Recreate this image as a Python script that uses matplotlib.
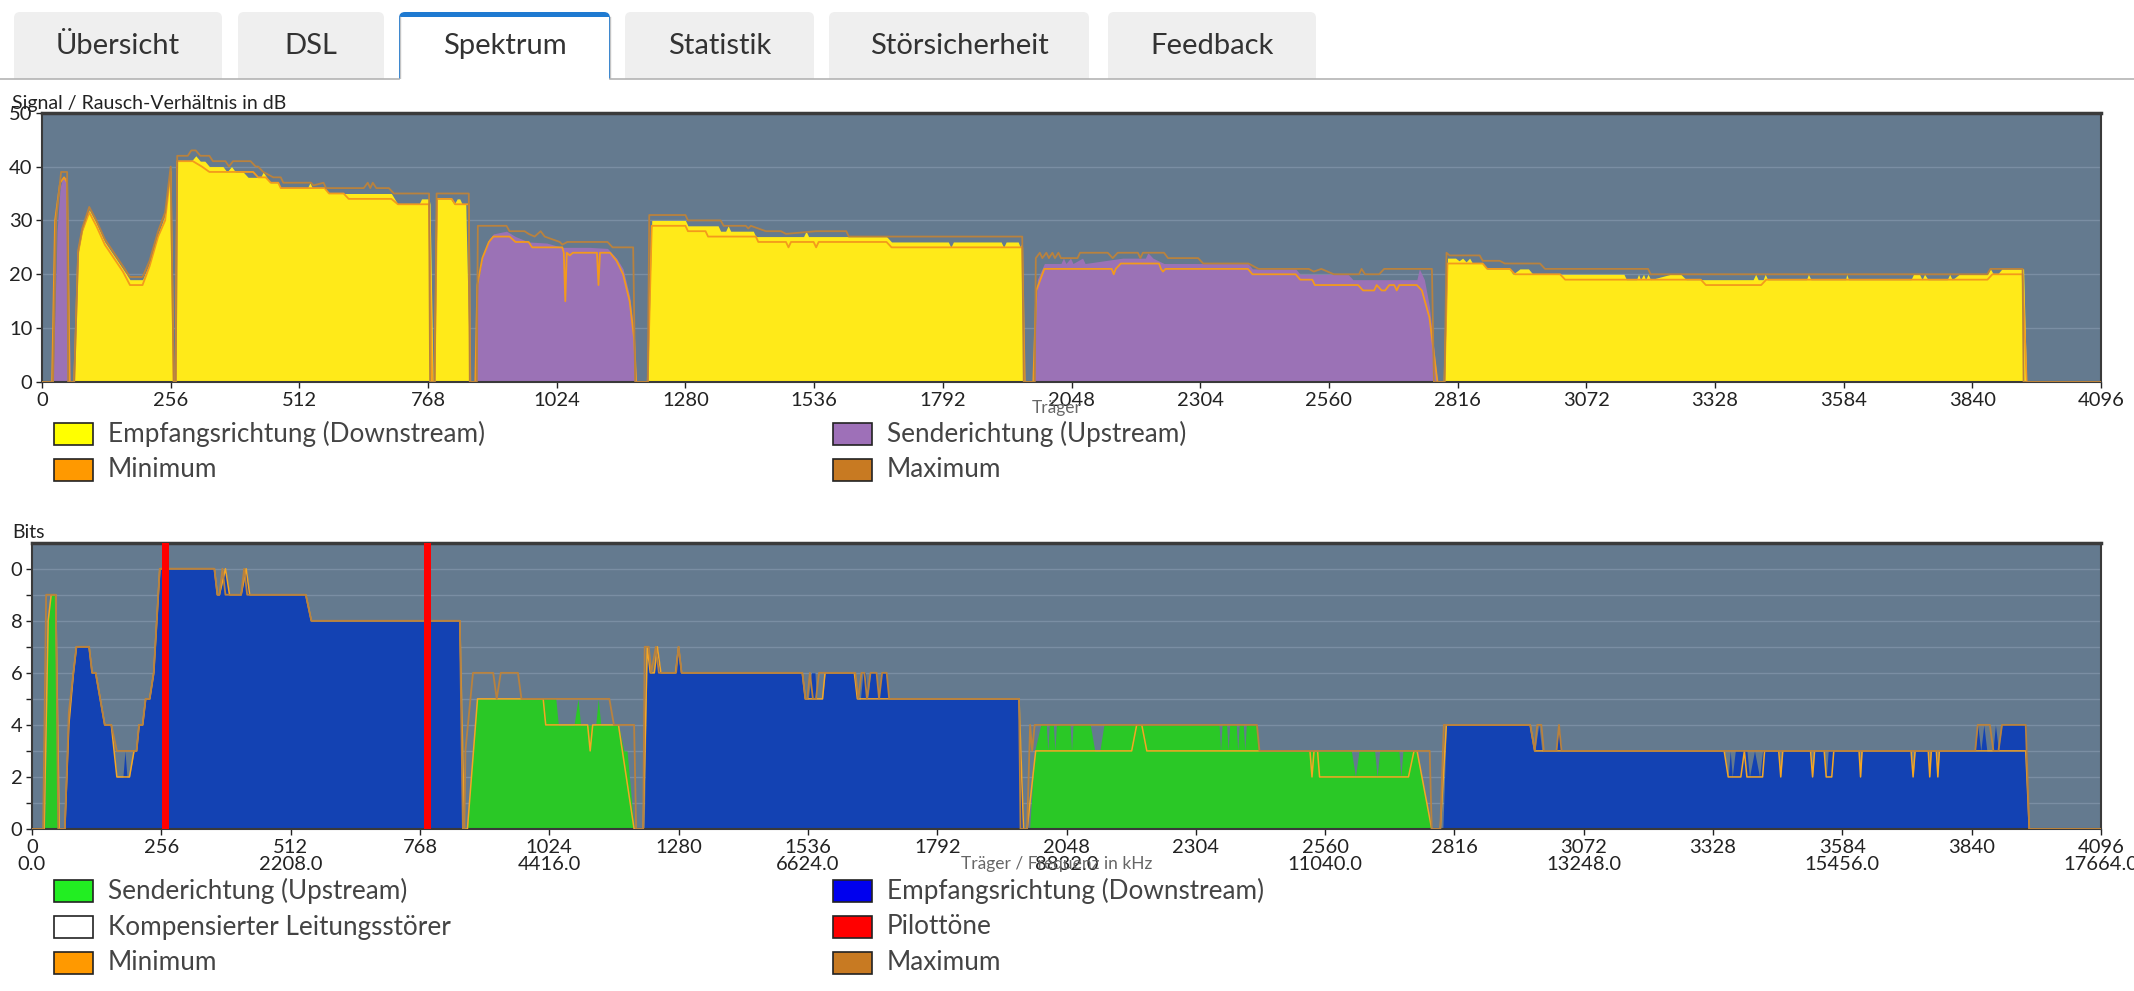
import matplotlib
matplotlib.use('Agg')
import matplotlib.pyplot as plt
from matplotlib.patches import FancyBboxPatch, Rectangle
from matplotlib.lines import Line2D
from matplotlib.transforms import IdentityTransform, blended_transform_factory

# ---------------- data (carrier, value) ----------------
TABS = ["Übersicht", "DSL", "Spektrum", "Statistik", "Störsicherheit", "Feedback"]
TAB_EDGES = [(14, 222), (238, 384), (399, 610), (625, 814), (829, 1089), (1108, 1316)]
ACTIVE_TAB = 2

X_TICKS = list(range(0, 4097, 256))
FREQ_TICKS = [0, 512, 1024, 1536, 2048, 2560, 3072, 3584, 4096]
FREQ_LABELS = ["0.0", "2208.0", "4416.0", "6624.0", "8832.0", "11040.0", "13248.0", "15456.0", "17664.0"]
SNR_TICKS = [0, 10, 20, 30, 40, 50]
BIT_TICKS = [0, 2, 4, 6, 8, 10]
BIT_TICK_LABELS = ["0", "2", "4", "6", "8", "0"]
BIT_MINOR = [1, 3, 5, 7, 9]

SNR_DS = [(60, 0), (64, 0), (72, 24), (80, 28), (94, 32), (108, 29.5), (125, 26), (143, 23.5), (161, 21),
          (175, 19), (200, 19), (214, 22), (231, 27.5), (245, 31), (256, 40), (262, 0),
          (266, 0), (269, 41), (297, 41), (306, 42), (315, 41), (324, 41), (333, 40), (360, 40), (368, 39),
          (377, 40), (385, 39), (400, 39), (410, 38), (435, 38), (440, 39), (447, 38), (455, 37), (470, 37),
          (475, 36), (528, 36), (533, 37), (538, 36), (562, 36), (571, 35), (695, 35), (708, 33), (750, 33),
          (755, 34), (770, 34), (772, 33), (778, 0),
          (781, 0), (786, 34), (813, 34), (820, 33), (826, 34), (831, 34), (836, 33), (843, 33), (851, 0),
          (1205, 0), (1213, 30), (1280, 30), (1285, 29), (1345, 29), (1350, 28), (1360, 28), (1365, 29),
          (1370, 28), (1415, 28), (1420, 27), (1515, 27), (1520, 28), (1525, 27), (1680, 27), (1690, 26),
          (1803, 26), (1808, 25), (1813, 26), (1908, 26), (1913, 25), (1918, 26), (1942, 26), (1946, 25),
          (1950, 26), (1953, 0),
          (2790, 0), (2796, 23), (2812, 23), (2819, 22.5), (2826, 23), (2833, 22.3), (2840, 23), (2846, 22),
          (2866, 22), (2875, 21), (2920, 21), (2926, 20), (2940, 21), (2957, 21), (2966, 20), (3147, 20),
          (3152, 19), (3172, 19), (3176, 20), (3180, 19), (3186, 20), (3190, 19), (3195, 20), (3200, 19),
          (3240, 20), (3260, 20), (3271, 19), (3404, 19), (3409, 20), (3414, 19), (3424, 19), (3428, 20),
          (3433, 19), (3510, 19), (3514, 20), (3519, 19), (3588, 19), (3590, 20), (3594, 19), (3718, 19),
          (3723, 20), (3735, 20), (3740, 19), (3745, 20), (3752, 19), (3790, 19), (3795, 20), (3800, 19),
          (3814, 20), (3870, 20), (3876, 21), (3882, 20), (3890, 20), (3899, 21), (3937, 21), (3942, 21),
          (3948, 0)]

SNR_US = [(18, 0), (22, 0), (30, 28), (36, 36), (41, 38), (50, 38), (56, 0),
          (857, 0), (861, 0), (867, 18), (876, 23), (889, 26.5), (898, 27.5), (924, 28), (942, 27), (968, 26),
          (1004, 25.8), (1035, 25), (1089, 25), (1125, 24.8), (1143, 23), (1156, 21), (1169, 16), (1178, 9),
          (1182, 0),
          (1965, 0), (1972, 0), (1980, 19), (1994, 22), (2027, 22), (2032, 23), (2037, 22), (2046, 23),
          (2051, 22), (2070, 23), (2075, 22), (2150, 23), (2195, 23), (2200, 24), (2210, 23), (2232, 22),
          (2399, 22), (2408, 21), (2494, 21), (2503, 20), (2598, 20), (2608, 19), (2680, 19), (2735, 19),
          (2740, 21), (2750, 19), (2760, 14), (2776, 0)]

SNR_MIN = [(0, 0), (20, 0), (26, 30), (36, 37), (44, 38), (50, 37), (55, 0), (64, 0), (72, 24), (80, 28),
           (94, 31.5), (108, 29), (125, 25.5), (143, 23), (161, 20.5), (175, 18), (200, 18), (214, 21.5),
           (231, 27), (245, 30), (256, 39), (262, 0), (266, 0), (269, 41), (300, 41), (318, 40), (333, 39),
           (420, 39), (430, 38), (445, 38), (455, 37), (470, 37), (475, 36), (562, 36), (571, 35), (600, 35),
           (610, 34), (695, 34), (708, 33), (770, 33), (776, 0), (781, 0), (786, 34), (815, 34), (822, 33),
           (849, 33), (852, 0),
           (862, 0), (866, 18), (876, 23), (889, 26), (898, 27), (930, 27), (942, 26), (968, 26), (975, 25),
           (1035, 25), (1038, 24), (1041, 15), (1044, 24), (1050, 23.5), (1056, 24), (1104, 24), (1107, 18),
           (1110, 24), (1130, 24), (1143, 22.5), (1156, 20), (1169, 15), (1178, 8), (1182, 0),
           (1205, 0), (1213, 29), (1280, 29), (1285, 28), (1320, 28), (1325, 27), (1420, 27), (1425, 26),
           (1480, 26), (1485, 25), (1490, 26), (1535, 26), (1540, 25), (1545, 26), (1680, 26), (1690, 25),
           (1950, 25), (1955, 0),
           (1972, 0), (1978, 17), (1994, 21), (2128, 21), (2132, 20), (2136, 21), (2146, 22), (2222, 22),
           (2226, 21), (2230, 20.5), (2235, 21), (2399, 21), (2408, 20), (2494, 20), (2503, 19), (2527, 19),
           (2532, 18), (2618, 18), (2628, 17), (2650, 17), (2655, 18), (2665, 17), (2672, 17), (2680, 18),
           (2690, 18), (2695, 17), (2700, 18), (2735, 18), (2745, 17), (2760, 12), (2776, 0),
           (2790, 0), (2796, 22), (2866, 22), (2875, 21), (2920, 21), (2930, 20), (3020, 20), (3030, 19),
           (3300, 19), (3310, 18), (3420, 18), (3430, 19), (3870, 19), (3880, 20), (3940, 20), (3948, 0),
           (4096, 0)]

SNR_MAX = [(0, 0), (22, 0), (28, 30), (38, 39), (50, 39), (52, 0), (64, 0), (72, 24.5), (80, 28.5),
           (94, 32.5), (108, 30), (125, 26.5), (143, 24), (161, 21.5), (175, 19.5), (200, 19.5), (214, 22.5),
           (231, 28), (245, 31.5), (256, 40), (262, 0), (266, 0), (269, 42), (290, 42), (297, 43), (306, 43),
           (315, 42), (333, 42), (340, 41), (365, 41), (372, 40), (380, 41), (415, 41), (425, 40), (430, 40),
           (440, 39), (460, 38), (475, 38), (480, 37), (535, 37), (540, 36.5), (560, 37), (565, 36), (640, 36),
           (648, 37), (653, 36), (658, 37), (665, 36), (690, 36), (700, 35), (770, 35), (772, 0),
           (781, 0), (785, 35), (849, 35), (851, 0),
           (865, 0), (867, 29), (924, 29), (930, 28), (960, 28), (968, 27.5), (980, 27), (992, 28),
           (1000, 27), (1030, 26), (1035, 25.5), (1045, 26), (1125, 26), (1135, 25), (1176, 25), (1180, 0),
           (1205, 0), (1208, 31), (1280, 31), (1285, 30), (1350, 30), (1356, 29), (1400, 29), (1405, 28.5),
           (1410, 29), (1440, 28), (1470, 28), (1480, 27.5), (1540, 28), (1600, 28), (1605, 27), (1950, 27),
           (1953, 0),
           (1975, 0), (1977, 23), (1985, 24), (1990, 23), (1998, 24), (2003, 23), (2010, 24), (2015, 23),
           (2022, 24), (2027, 23), (2060, 23), (2065, 24), (2120, 24), (2130, 23), (2140, 24), (2180, 24),
           (2185, 23), (2190, 24), (2232, 24), (2240, 23), (2300, 23), (2310, 22), (2400, 22), (2410, 21.5),
           (2420, 21), (2520, 21), (2530, 20.5), (2545, 21), (2570, 20), (2620, 20), (2625, 21), (2632, 20),
           (2660, 20), (2670, 21), (2765, 21), (2769, 0),
           (2790, 0), (2794, 24), (2800, 23.5), (2860, 23.5), (2866, 22.5), (2900, 22.5), (2910, 22),
           (2980, 22), (2990, 21), (3195, 21), (3200, 20), (3870, 20), (3876, 21), (3940, 21), (3942, 0),
           (4096, 0)]

BIT_US = [(20, 0), (25, 0), (32, 8), (38, 9), (47, 9), (54, 0),
          (855, 0), (862, 0), (880, 5), (1037, 5), (1042, 4), (1073, 4), (1081, 5), (1086, 4), (1116, 4),
          (1121, 5), (1126, 4), (1161, 4), (1172, 3), (1178, 3), (1192, 0),
          (1968, 0), (1975, 0), (1985, 3), (1997, 4), (2008, 4), (2011, 3), (2014, 4), (2022, 4), (2025, 3),
          (2028, 4), (2055, 4), (2058, 3), (2061, 4), (2095, 4), (2104, 3), (2114, 3), (2122, 4), (2350, 4),
          (2353, 3), (2356, 4), (2365, 4), (2368, 3), (2371, 4), (2384, 4), (2387, 3), (2390, 4), (2398, 4),
          (2401, 3), (2404, 4), (2425, 4), (2430, 3), (2612, 3), (2620, 2), (2627, 3), (2658, 3), (2663, 2),
          (2668, 3), (2706, 3), (2710, 2), (2714, 3), (2740, 3), (2771, 0)]

BIT_DS = [(60, 0), (65, 0), (73, 4.2), (82, 6), (88, 7), (113, 7), (119, 6), (126, 6), (135, 5), (144, 4),
          (157, 4), (168, 2), (180, 2), (184, 3), (188, 2), (193, 2), (202, 3), (207, 3), (212, 4), (219, 4),
          (225, 5), (233, 5), (241, 6), (253, 10), (361, 10), (367, 9), (371, 9), (383, 10), (391, 9),
          (414, 9), (424, 10), (431, 9), (542, 9), (553, 8), (847, 8), (856, 0),
          (1205, 0), (1212, 0), (1218, 7), (1224, 6), (1232, 6), (1238, 7), (1245, 6), (1274, 6), (1280, 7),
          (1286, 6), (1525, 6), (1531, 5), (1537, 5), (1543, 6), (1550, 6), (1553, 5), (1565, 5), (1570, 6),
          (1628, 6), (1634, 5), (1640, 5), (1645, 6), (1650, 6), (1655, 5), (1660, 6), (1672, 6), (1677, 5),
          (1681, 6), (1690, 6), (1697, 5), (1954, 5), (1963, 0),
          (2788, 0), (2793, 0), (2800, 4), (2966, 4), (2975, 3), (2983, 4), (2989, 3), (3018, 3), (3023, 4),
          (3028, 3), (3350, 3), (3358, 2), (3362, 3), (3366, 2), (3372, 3), (3395, 3), (3400, 2), (3410, 3),
          (3420, 2), (3426, 3), (3458, 3), (3462, 2), (3466, 3), (3521, 3), (3525, 2), (3529, 3), (3548, 3),
          (3552, 2), (3556, 3), (3617, 3), (3620, 2), (3623, 3), (3720, 3), (3724, 2), (3728, 3), (3754, 3),
          (3757, 2), (3760, 3), (3770, 3), (3773, 2), (3776, 3), (3847, 3), (3852, 4), (3858, 3), (3864, 4),
          (3870, 3), (3882, 3), (3887, 4), (3893, 3), (3900, 4), (3947, 4), (3954, 0)]

BIT_MIN = [(0, 0), (24, 0), (32, 8), (38, 9), (47, 9), (54, 0), (65, 0), (73, 4), (82, 6), (88, 7), (113, 7),
           (119, 6), (126, 6), (135, 5), (144, 4), (157, 4), (168, 2), (193, 2), (202, 3), (207, 3), (212, 4),
           (219, 4), (225, 5), (233, 5), (241, 6), (253, 10), (361, 10), (367, 9), (371, 9), (383, 10),
           (391, 9), (414, 9), (424, 10), (431, 9), (542, 9), (553, 8), (847, 8), (856, 0),
           (862, 0), (882, 5), (1012, 5), (1017, 4), (1100, 4), (1105, 3), (1110, 4), (1161, 4), (1192, 0),
           (1210, 0), (1218, 7), (1224, 6), (1232, 6), (1238, 7), (1245, 6), (1274, 6), (1280, 7), (1286, 6),
           (1525, 6), (1531, 5), (1565, 5), (1570, 6), (1628, 6), (1634, 5), (1954, 5), (1963, 0),
           (1970, 0), (1987, 3), (2177, 3), (2187, 4), (2197, 4), (2207, 3), (2530, 3), (2534, 2), (2538, 3),
           (2545, 3), (2549, 2), (2725, 2), (2736, 3), (2742, 3), (2771, 0),
           (2788, 0), (2800, 4), (2966, 4), (2975, 3), (3350, 3), (3358, 2), (3383, 2), (3390, 3), (3395, 2),
           (3426, 2), (3430, 3), (3458, 3), (3462, 2), (3466, 3), (3521, 3), (3525, 2), (3529, 3), (3548, 3),
           (3552, 2), (3563, 2), (3567, 3), (3617, 3), (3620, 2), (3623, 3), (3720, 3), (3724, 2), (3728, 3),
           (3754, 3), (3757, 2), (3760, 3), (3770, 3), (3773, 2), (3776, 3), (3947, 3), (3954, 0), (4096, 0)]

BIT_MAX = [(0, 0), (22, 0), (28, 9), (47, 9), (52, 0), (65, 0), (73, 4.5), (82, 6), (88, 7), (113, 7),
           (119, 6), (126, 6), (135, 5), (144, 4), (157, 4), (168, 3), (193, 3), (207, 3), (212, 4), (219, 4),
           (225, 5), (233, 5), (241, 6), (253, 10), (361, 10), (367, 9), (371, 9), (377, 10), (383, 9),
           (414, 9), (420, 10), (426, 9), (542, 9), (553, 8), (847, 8), (853, 0),
           (856, 0), (858, 3), (873, 6), (913, 6), (920, 5), (928, 6), (962, 6), (969, 5), (1143, 5),
           (1152, 4), (1192, 4), (1196, 0),
           (1210, 0), (1213, 7), (1221, 7), (1226, 6), (1235, 7), (1241, 6), (1275, 6), (1280, 7), (1286, 6),
           (1525, 6), (1531, 5), (1535, 5), (1540, 6), (1546, 5), (1552, 5), (1558, 6), (1630, 6), (1636, 5),
           (1642, 6), (1648, 6), (1653, 5), (1660, 6), (1672, 6), (1677, 5), (1683, 6), (1692, 6), (1697, 5),
           (1954, 5), (1957, 0),
           (1970, 0), (1976, 4), (1980, 3), (1985, 4), (2425, 4), (2430, 3), (2767, 3), (2771, 0),
           (2788, 0), (2795, 4), (2966, 4), (2975, 3), (2980, 4), (2988, 4), (2993, 3), (3018, 3), (3023, 4),
           (3028, 3), (3847, 3), (3852, 4), (3876, 4), (3883, 3), (3893, 3), (3900, 4), (3947, 4), (3954, 0),
           (4096, 0)]

PILOT_TONES = [264, 783]

TOP_LEGEND = [("Empfangsrichtung (Downstream)", "#ffff00"), ("Senderichtung (Upstream)", "#9e70b8"),
              ("Minimum", "#ff9900"), ("Maximum", "#c87a22")]
BOT_LEGEND = [("Senderichtung (Upstream)", "#22ee22"), ("Empfangsrichtung (Downstream)", "#0000ee"),
              ("Kompensierter Leitungsstörer", "#ffffff"), ("Pilottöne", "#ff0000"),
              ("Minimum", "#ff9900"), ("Maximum", "#c87a22")]

# ---------------- figure ----------------
W, H = 2134, 991
plt.rcParams['font.family'] = ['Lato', 'DejaVu Sans']
fig = plt.figure(figsize=(W / 100, H / 100), dpi=100)
fig.patch.set_facecolor('white')
ID = IdentityTransform()
TICK_FS = 14.5


def fx(x):
    return x / W


def fy(y):
    return 1 - y / H


# tabs
for i, (name, (x0, x1)) in enumerate(zip(TABS, TAB_EDGES)):
    if i == ACTIVE_TAB:
        fig.add_artist(FancyBboxPatch((x0, H - 95), x1 - x0, 95 - 12, boxstyle="round,pad=0,rounding_size=6",
                                      transform=ID, fc='#1f7ad1', ec='none', zorder=1))
        fig.add_artist(Rectangle((x0 + 1, H - 95), x1 - x0 - 2, 95 - 17, transform=ID, fc='white',
                                 ec='none', zorder=1.5))
        fig.add_artist(Line2D([x0 + 0.5, x0 + 0.5], [H - 79, H - 17], transform=ID, color='#c4c4c4', lw=1,
                              zorder=1.6))
        fig.add_artist(Line2D([x1 - 0.5, x1 - 0.5], [H - 79, H - 17], transform=ID, color='#c4c4c4', lw=1,
                              zorder=1.6))
    else:
        fig.add_artist(FancyBboxPatch((x0, H - 95), x1 - x0, 95 - 12, boxstyle="round,pad=0,rounding_size=6",
                                      transform=ID, fc='#efefef', ec='none', zorder=1))
    fig.text(fx((x0 + x1) / 2), fy(46), name, ha='center', va='center', fontsize=21, color='#333333',
             zorder=3)
fig.add_artist(Rectangle((0, H - 100), W, 21, transform=ID, fc='white', ec='none', zorder=2))
ax0, ax1 = TAB_EDGES[ACTIVE_TAB]
fig.add_artist(Line2D([0, ax0], [H - 78.5, H - 78.5], transform=ID, color='#b4b4b4', lw=1.2, zorder=3))
fig.add_artist(Line2D([ax1, W], [H - 78.5, H - 78.5], transform=ID, color='#b4b4b4', lw=1.2, zorder=3))

BG = '#647a8f'
GRID = '#7a8ea3'


def style(ax):
    ax.set_facecolor(BG)
    for s in ax.spines.values():
        s.set_color('#3a3a3a')
        s.set_linewidth(1.5)
    ax.spines['top'].set_linewidth(2.5)
    ax.tick_params(colors='#222222', labelsize=TICK_FS, length=4, width=1, direction='out', pad=3)
    ax.set_axisbelow(True)
    ax.set_xlim(0, 4096)
    ax.set_xticks(X_TICKS)


def xy(pts):
    return [p[0] for p in pts], [p[1] for p in pts]


# ---- top chart ----
axT = fig.add_axes([fx(42), fy(382), (2101 - 42) / W, (382 - 112.7) / H])
style(axT)
axT.set_ylim(0, 50)
axT.set_yticks(SNR_TICKS)
axT.grid(axis='y', color=GRID, lw=1)
x, y = xy(SNR_DS)
axT.fill_between(x, 0, y, color='#ffea19', lw=0, zorder=2)
x, y = xy(SNR_US)
axT.fill_between(x, 0, y, color='#9b72b6', lw=0, zorder=2)
x, y = xy(SNR_MIN)
axT.plot(x, y, color='#f39a1c', lw=1.3, zorder=3)
x, y = xy(SNR_MAX)
axT.plot(x, y, color='#b9823e', lw=1.3, zorder=4)

fig.text(fx(12), fy(103), 'Signal / Rausch-Verhältnis in dB', ha='left', va='center', fontsize=14,
         color='#222222', zorder=5)
fig.text(fx(1057), fy(408), 'Träger', ha='center', va='center', fontsize=12.5, color='#666666')

# ---- bottom chart ----
axB = fig.add_axes([fx(32), fy(829), (2101 - 32) / W, (829 - 542.7) / H])
style(axB)
axB.set_ylim(0, 11)
axB.set_yticks(BIT_TICKS)
axB.set_yticklabels(BIT_TICK_LABELS)
axB.set_yticks(BIT_MINOR, minor=True)
axB.tick_params(axis='y', which='minor', length=4, width=1, colors='#222222')
axB.grid(axis='y', which='both', color=GRID, lw=1)
x, y = xy(BIT_US)
axB.fill_between(x, 0, y, color='#2ac826', lw=0, zorder=2)
x, y = xy(BIT_DS)
axB.fill_between(x, 0, y, color='#1342b3', lw=0, zorder=2)
x, y = xy(BIT_MIN)
axB.plot(x, y, color='#f5a623', lw=1.1, zorder=3)
x, y = xy(BIT_MAX)
axB.plot(x, y, color='#b9823e', lw=1.3, zorder=4)
axB.bar(PILOT_TONES, [11] * len(PILOT_TONES), width=13, color='#ff0000', lw=0, zorder=5)

fig.text(fx(12), fy(533), 'Bits', ha='left', va='center', fontsize=14, color='#222222')
tr = blended_transform_factory(axB.transData, fig.transFigure)
for c, lab in zip(FREQ_TICKS, FREQ_LABELS):
    axB.text(c, fy(865), lab, transform=tr, ha='center', va='center', fontsize=TICK_FS, color='#222222',
             clip_on=False)
fig.text(fx(1057), fy(864), 'Träger / Frequenz in kHz', ha='center', va='center', fontsize=12.5,
         color='#666666')


# ---- legends ----
def legend(items, rows_y):
    for i, (lab, col) in enumerate(items):
        r, c = divmod(i, 2)
        yc = rows_y[r]
        bx = 54 if c == 0 else 833
        tx = 108 if c == 0 else 887
        fig.add_artist(Rectangle((bx, H - yc - 11), 39, 22, transform=ID, fc=col, ec='#222222', lw=1.2))
        fig.text(fx(tx), fy(yc), lab, ha='left', va='center', fontsize=18.8, color='#444444')


legend(TOP_LEGEND, [434, 470])
legend(BOT_LEGEND, [891, 927, 963])

fig.savefig('out.png', dpi=100, facecolor='white')
